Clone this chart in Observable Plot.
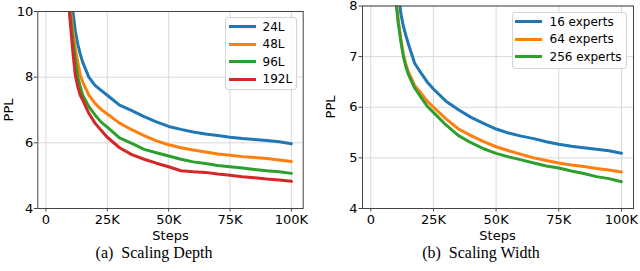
<!DOCTYPE html>
<html><head><meta charset="utf-8">
<script src="https://cdn.jsdelivr.net/npm/d3@7"></script>
<script src="https://cdn.jsdelivr.net/npm/@observablehq/plot@0.6"></script>
<style>
body{margin:0;background:#fff;}
#wrap{position:relative;width:640px;height:271px;font-family:"DejaVu Sans",sans-serif;color:#000;}
.panel{position:absolute;top:0;}
.lbl{position:absolute;font-size:13px;transform:translate(-50%,-50%);white-space:nowrap;}
.rot{transform:translate(-50%,-50%) rotate(-90deg);}
.cap{position:absolute;font-family:"Liberation Serif",serif;font-size:16px;transform:translate(-50%,-50%);white-space:nowrap;}
.legend{position:absolute;background:rgba(255,255,255,0.85);border:1px solid #d4d4d4;border-radius:3px;box-sizing:border-box;}
.item{position:absolute;left:0;height:0;}
.item .sw{position:absolute;height:3px;top:-1.5px;}
.item .tx{position:absolute;font-size:12px;top:0;transform:translateY(-50%);white-space:nowrap;}
</style>
</head><body>
<div id="wrap"></div>
<script>
// ---------- data (steps in thousands) ----------
const depthSteps = [9, 10, 11, 12, 13, 14, 15, 17.5, 20, 22.5, 25, 30, 35, 40, 45, 50, 55, 60, 65, 70, 75, 80, 85, 90, 95, 100];
const depthSeries = ["24L", "48L", "96L", "192L"];
const ppl24L  = [11.5, 10.6, 10.0, 9.4, 9.0, 8.7, 8.45, 8.0, 7.75, 7.6, 7.45, 7.15, 6.98, 6.8, 6.64, 6.5, 6.41, 6.33, 6.27, 6.22, 6.17, 6.13, 6.1, 6.07, 6.03, 5.97];
const ppl48L  = [10.6, 10.0, 9.4, 8.85, 8.45, 8.05, 7.85, 7.45, 7.2, 7.02, 6.88, 6.6, 6.4, 6.22, 6.06, 5.94, 5.85, 5.78, 5.72, 5.66, 5.62, 5.58, 5.55, 5.52, 5.48, 5.43];
const ppl96L  = [10.4, 9.85, 9.1, 8.55, 8.0, 7.7, 7.45, 7.1, 6.85, 6.63, 6.48, 6.15, 5.98, 5.8, 5.7, 5.6, 5.5, 5.42, 5.37, 5.31, 5.27, 5.23, 5.19, 5.15, 5.12, 5.07];
const ppl192L = [10.5, 9.6, 8.75, 8.05, 7.7, 7.45, 7.3, 6.9, 6.6, 6.38, 6.17, 5.85, 5.64, 5.5, 5.38, 5.27, 5.15, 5.12, 5.1, 5.05, 5.01, 4.97, 4.94, 4.9, 4.87, 4.83];

const widthSteps = [9, 10, 11, 12, 13, 14, 15, 17.5, 20, 22.5, 25, 30, 35, 40, 45, 50, 55, 60, 65, 70, 75, 80, 85, 90, 95, 100];
const widthSeries = ["16 experts", "64 experts", "256 experts"];
const ppl16e  = [9.3, 8.8, 8.3, 7.85, 7.6, 7.42, 7.25, 6.87, 6.68, 6.5, 6.36, 6.12, 5.95, 5.8, 5.68, 5.57, 5.49, 5.43, 5.38, 5.32, 5.27, 5.23, 5.2, 5.17, 5.14, 5.09];
const ppl64e  = [8.7, 8.15, 7.7, 7.35, 7.05, 6.85, 6.7, 6.43, 6.28, 6.12, 6.0, 5.77, 5.57, 5.44, 5.32, 5.22, 5.14, 5.07, 5.0, 4.95, 4.9, 4.86, 4.83, 4.79, 4.76, 4.72];
const ppl256e = [8.6, 8.1, 7.65, 7.3, 7.0, 6.8, 6.65, 6.38, 6.2, 6.02, 5.9, 5.65, 5.44, 5.3, 5.18, 5.09, 5.02, 4.96, 4.9, 4.84, 4.8, 4.74, 4.69, 4.63, 4.59, 4.53];

const colors = ["#1f77b4", "#ff7f0e", "#2ca02c", "#d62728"];
const xTicks = [0, 25, 50, 75, 100];
const depthYTicks = [4, 6, 8, 10];
const widthYTicks = [4, 5, 6, 7, 8];

// ---------- build tables ----------
function table(steps, names, arrays) {
  const rows = [];
  names.forEach((n, i) => steps.forEach((s, j) => rows.push({step: s, ppl: arrays[i][j], series: n})));
  return rows;
}
const depthData = table(depthSteps, depthSeries, [ppl24L, ppl48L, ppl96L, ppl192L]);
const widthData = table(widthSteps, widthSeries, [ppl16e, ppl64e, ppl256e]);

const fmtX = d => d === 0 ? "0" : d + "K";
const fmtY = d => String(d);
const wrap = document.getElementById("wrap");

function panel(data, names, yDomain, yTicks, m, left) {
  const chart = Plot.plot({
    width: 320, height: 245,
    marginLeft: m.l, marginRight: m.r, marginTop: m.t, marginBottom: 37,
    style: {fontFamily: "DejaVu Sans", fontSize: "13px", color: "#000", background: "transparent", overflow: "visible"},
    x: {domain: [-3.3, 104.8]},
    y: {domain: yDomain},
    color: {domain: names, range: colors.slice(0, names.length)},
    marks: [
      Plot.gridX(xTicks, {stroke: "#d9d9d9", strokeOpacity: 1, strokeWidth: 1}),
      Plot.gridY(yTicks, {stroke: "#d9d9d9", strokeOpacity: 1, strokeWidth: 1}),
      Plot.line(data, {x: "step", y: "ppl", z: "series", stroke: "series", strokeWidth: 3, clip: true}),
      Plot.frame({stroke: "#444", strokeWidth: 1}),
      Plot.axisX(xTicks, {tickFormat: fmtX, tickSize: 3.5, tickPadding: 2.5, label: null, stroke: "#444", fill: "#000", fontSize: 13}),
      Plot.axisY(yTicks, {tickFormat: fmtY, tickSize: 3.5, tickPadding: m.pad, label: null, stroke: "#444", fill: "#000", fontSize: 13})
    ]
  });
  chart.classList.add("panel");
  chart.style.left = left + "px";
  wrap.appendChild(chart);
}
panel(depthData, depthSeries, [4, 10], depthYTicks, {l: 37.3, r: 17.3, t: 11, pad: 1}, 0);
panel(widthData, widthSeries, [4, 8], widthYTicks, {l: 42, r: 7, t: 5.5, pad: 1.5}, 320);

function addText(cls, text, x, y) {
  const d = document.createElement("div");
  d.className = cls; d.textContent = text;
  d.style.left = x + "px"; d.style.top = y + "px";
  wrap.appendChild(d);
}
addText("lbl rot", "PPL", 8, 110);
addText("lbl rot", "PPL", 330, 107);
addText("lbl", "Steps", 170.5, 235);
addText("lbl", "Steps", 497.5, 235);
addText("cap", "(a)\u2002Scaling Depth", 154, 253);
addText("cap", "(b)\u2002Scaling Width", 481, 253);

function legend(names, box, rowYs, lineX, lineW, textX) {
  const lg = document.createElement("div");
  lg.className = "legend";
  Object.assign(lg.style, {left: box[0] + "px", top: box[1] + "px", width: box[2] + "px", height: box[3] + "px"});
  wrap.appendChild(lg);
  names.forEach((n, i) => {
    const it = document.createElement("div");
    it.className = "item";
    it.style.top = rowYs[i] + "px";
    const sw = document.createElement("div");
    sw.className = "sw";
    Object.assign(sw.style, {left: lineX + "px", width: lineW + "px", background: colors[i]});
    const tx = document.createElement("div");
    tx.className = "tx"; tx.textContent = n;
    tx.style.left = textX + "px";
    it.appendChild(sw); it.appendChild(tx);
    wrap.appendChild(it);
  });
}
legend(depthSeries, [225, 17, 72, 73], [26.7, 44.3, 61.8, 79.3], 228.5, 27, 262.5);
legend(widthSeries, [511.5, 11.5, 115, 57], [21.7, 39.2, 56.7], 514.5, 27.5, 549.5);
</script>
</body></html>
